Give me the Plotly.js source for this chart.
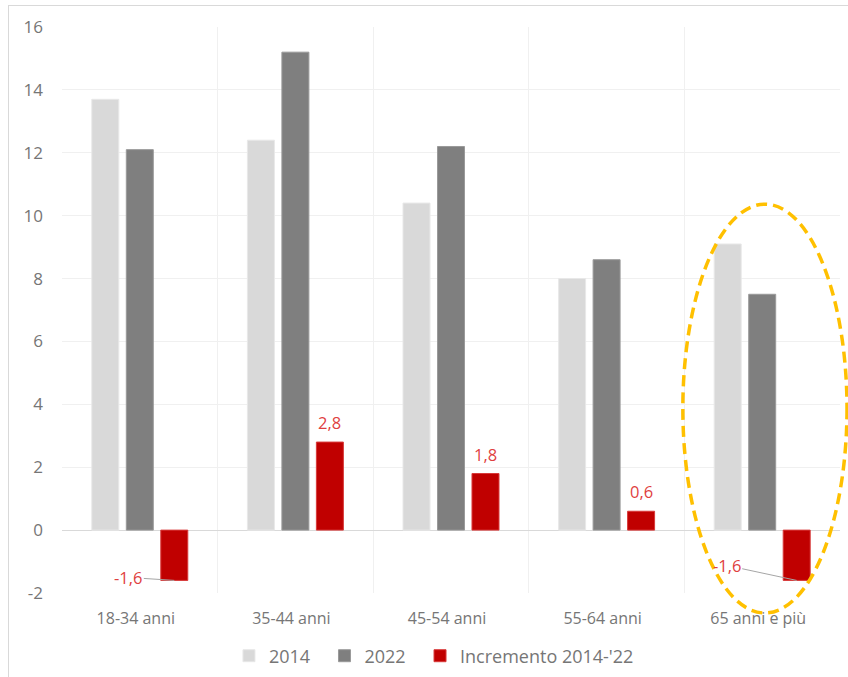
<!DOCTYPE html>
<html>
<head>
<meta charset="utf-8">
<script src="https://cdn.plot.ly/plotly-3.0.1.min.js"></script>
<style>
html,body{margin:0;padding:0;background:#fff;overflow:hidden;}
#chart{width:848px;height:677px;}
#frame{position:absolute;left:8px;top:5px;width:860px;height:700px;border:1px solid #d9d9d9;pointer-events:none;}
</style>
</head>
<body>
<div id="chart"></div>
<div id="frame"></div>
<script>
const categories = ["18-34 anni", "35-44 anni", "45-54 anni", "55-64 anni", "65 anni e più"];
const values2014 = [13.7, 12.4, 10.4, 8.0, 9.1];
const values2022 = [12.1, 15.2, 12.2, 8.6, 7.5];
const increment = [-1.6, 2.8, 1.8, 0.6, -1.6];
const seriesNames = ["2014", "2022", "Incremento 2014-'22"];
const yTicks = [-2, 0, 2, 4, 6, 8, 10, 12, 14, 16];

const FONT = "'Open Sans', 'Noto Sans', sans-serif";
const labelColor = "#df3f3f";
const pad = "\u00a0\u00a0";

const traces = [
  {type: "bar", name: seriesNames[0] + pad, x: categories, y: values2014, marker: {color: "#d9d9d9", line: {color: "#e8e8e8", width: 1}}, hoverinfo: "none"},
  {type: "bar", name: seriesNames[1] + pad, x: categories, y: values2022, marker: {color: "#7f7f7f", line: {color: "#9a9a9a", width: 1}}, hoverinfo: "none"},
  {type: "bar", name: seriesNames[2], x: categories, y: increment, marker: {color: "#c00000", line: {color: "#d83a3a", width: 1}}, hoverinfo: "none"}
];

const fmt = v => v.toFixed(1).replace(".", ",");
const annotations = [];
increment.forEach((v, i) => {
  if (v >= 0) {
    annotations.push({x: categories[i], y: v, xref: "x", yref: "y", text: fmt(v), showarrow: false,
      xshift: 34.5, yshift: 6, yanchor: "bottom", font: {family: FONT, size: 16.5, color: labelColor}});
  } else {
    const last = i === increment.length - 1;
    annotations.push({x: categories[i], y: v, xref: "x", yref: "y", text: fmt(v), showarrow: true,
      arrowhead: 0, arrowwidth: 1, arrowcolor: "#a6a6a6", xshift: 34.5,
      ax: last ? -70 : -46, ay: last ? -15 : -3, standoff: 0,
      font: {family: FONT, size: 16.5, color: labelColor}});
  }
});

const layout = {
  width: 848, height: 677,
  margin: {l: 62, r: 8, t: 27, b: 84},
  paper_bgcolor: "rgba(0,0,0,0)", plot_bgcolor: "#fff",
  barmode: "group", bargap: 0.335, bargroupgap: 0.217,
  font: {family: FONT, color: "#767676"},
  xaxis: {type: "category", tickson: "boundaries", showgrid: true, gridcolor: "#f0f0f0", gridwidth: 1,
    ticks: "", ticklen: 0, showline: false, zeroline: false, tickfont: {size: 16, color: "#767676"},
    ticklabelstandoff: 14, ticklabelshift: -4, automargin: false, fixedrange: true},
  yaxis: {range: [-2, 16], tickvals: yTicks, ticktext: yTicks.map(String), showgrid: true, gridcolor: "#f0f0f0",
    zeroline: true, zerolinecolor: "#d9d9d9", zerolinewidth: 1, showline: false, ticks: "",
    tickfont: {size: 17, color: "#767676"}, ticklabelstandoff: 18, automargin: false, fixedrange: true},
  legend: {orientation: "h", xref: "container", yref: "container", x: 0.27, xanchor: "left", y: 0.031, yanchor: "middle",
    font: {size: 18, color: "#767676"}, itemclick: false, traceorder: "normal"},
  annotations: annotations,
  shapes: [{type: "circle", xref: "paper", yref: "paper", x0: 0.798, x1: 1.009, y0: -0.0353, y1: 0.687,
    line: {color: "#ffc000", width: 3.5, dash: "11px,6px"}, fillcolor: "rgba(0,0,0,0)", layer: "above"}]
};

Plotly.newPlot("chart", traces, layout, {displayModeBar: false, staticPlot: true});
</script>
</body>
</html>
